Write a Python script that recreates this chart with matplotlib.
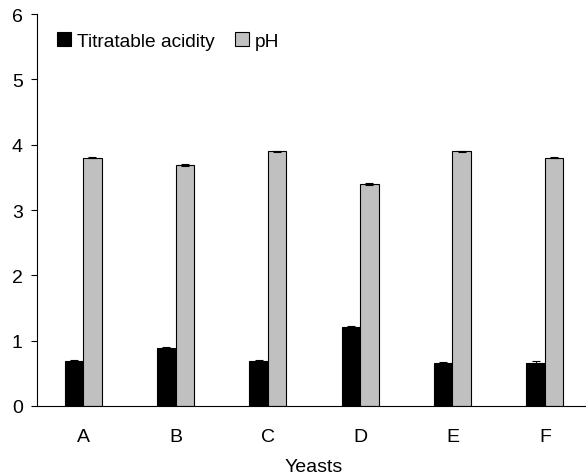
import numpy as np
import matplotlib.pyplot as plt

plt.rcParams['font.family'] = ['Liberation Sans', 'DejaVu Sans']

yeasts = ["A", "B", "C", "D", "E", "F"]
acidity = [0.69, 0.89, 0.69, 1.21, 0.66, 0.66]
acidity_err = [0.02, 0.02, 0.02, 0.02, 0.02, 0.03]
ph = [3.80, 3.69, 3.90, 3.40, 3.90, 3.80]
ph_err = [0.01, 0.01, 0.01, 0.01, 0.01, 0.01]

fig = plt.figure(figsize=(5.86, 4.77), dpi=100)
ax = fig.add_axes([37 / 586, 70 / 477, 554 / 586, 392 / 477])

x = np.arange(len(yeasts))
w = 0.2
ax.bar(x - w / 2, acidity, w, color="black", edgecolor="black", linewidth=0.8,
       yerr=acidity_err, error_kw=dict(ecolor="black", capsize=3, elinewidth=0.8, capthick=0.8),
       label="Titratable acidity")
ax.bar(x + w / 2, ph, w, color="#c0c0c0", edgecolor="black", linewidth=0.8,
       yerr=ph_err, error_kw=dict(ecolor="black", capsize=3, elinewidth=0.8, capthick=0.8),
       label="pH")

ax.set_xlim(-0.5, 5.5)
ax.set_ylim(0, 6)
ax.set_xticks(x)
ax.set_xticklabels(yeasts, fontsize=14)
ax.tick_params(axis="x", length=0, pad=16)
ax.tick_params(axis="y", direction="out", length=4.3, labelsize=14, pad=6)
ax.set_yticks(range(7))
for s in ["top", "right"]:
    ax.spines[s].set_visible(False)
ax.set_xlabel("Yeasts", fontsize=14, labelpad=9)

ax.legend(loc="upper left", bbox_to_anchor=(0.005, 0.998), ncol=2, frameon=False,
          fontsize=13.8, handlelength=0.72, handleheight=0.72, handletextpad=0.3,
          columnspacing=1.1)

fig.savefig("out.png", dpi=100)
